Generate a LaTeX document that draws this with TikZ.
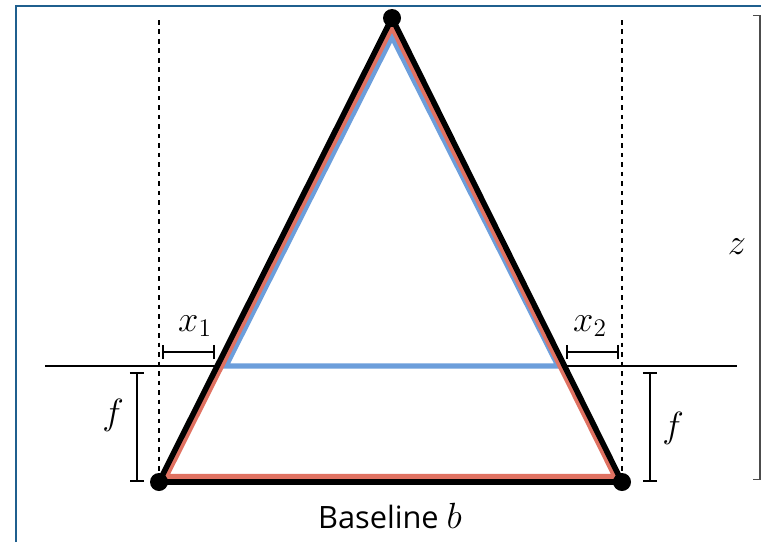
\documentclass[tikz,border=0pt]{standalone}
\usepackage{fontspec}
\setsansfont{Open Sans}
\usetikzlibrary{arrows.meta}
\definecolor{redtri}{HTML}{E07262}
\definecolor{bluetri}{HTML}{6C9EDB}
\definecolor{frameblue}{HTML}{1F5F8E}
\newcommand{\lbl}[1]{\fontsize{21}{23}\selectfont$#1$}

\begin{document}
\begin{tikzpicture}[line width=1.6pt,
  dim/.style={line width=1.2pt, {Bar[width=8pt]}-{Bar[width=8pt]}},
  axis/.style={line width=1.5pt, dash pattern=on 2.6pt off 2.8pt}]
  \useasboundingbox (0,0) rectangle (15.22,10.84);
  \draw[frameblue, line width=1.2pt] (0.32,0) -- (0.32,10.72) -- (15.22,10.72);
  % scene point and the two cameras
  \coordinate (P) at (7.84,10.48);
  \coordinate (C1) at (3.18,1.20);
  \coordinate (C2) at (12.44,1.20);
  \coordinate (A1) at (3.18,10.44);
  \coordinate (A2) at (12.44,10.44);
  \draw[axis] (A1) -- (C1);
  \draw[axis] (A2) -- (C2);
  % image plane
  \coordinate (IL) at (0.90,3.52);
  \coordinate (IR) at (14.74,3.52);
  \draw (IL) -- (IR);
  \draw[bluetri, line width=2.9pt] (7.84,10.10) -- (4.52,3.52) -- (11.16,3.52) -- cycle;
  \draw[redtri, line width=3pt] (7.84,10.30) -- (3.32,1.31) -- (12.30,1.31) -- cycle;
  \draw[line width=3.2pt] (P) -- (C1) -- (C2) -- cycle;
  \foreach \p in {P, C1, C2} { \fill (\p) circle (0.18); }
  % disparities
  \coordinate (x1a) at (3.24,3.80);
  \coordinate (x1b) at (4.30,3.80);
  \draw[dim] (x1a) -- (x1b);
  \node (x1) at (3.90,4.32) {\lbl{x_1}};
  \coordinate (x2a) at (11.32,3.80);
  \coordinate (x2b) at (12.38,3.80);
  \draw[dim] (x2a) -- (x2b);
  \node (x2) at (11.80,4.32) {\lbl{x_2}};
  % focal lengths
  \coordinate (f1a) at (2.74,3.40);
  \coordinate (f1b) at (2.74,1.20);
  \draw[dim] (f1a) -- (f1b);
  \node (f1) at (2.26,2.54) {\lbl{f}};
  \coordinate (f2a) at (13.00,3.40);
  \coordinate (f2b) at (13.00,1.20);
  \draw[dim] (f2a) -- (f2b);
  \node (f2) at (13.46,2.28) {\lbl{f}};
  % depth
  \coordinate (za) at (15.20,10.54);
  \coordinate (zb) at (15.20,1.24);
  \draw[dim, line width=0.7pt, black!70] (za) -- (zb);
  \node (z) at (14.74,5.90) {\lbl{z}};
  \node (base) at (7.80,0.52) {\sffamily\fontsize{17.5}{20}\selectfont Baseline \lbl{b}};
\end{tikzpicture}
\end{document}
